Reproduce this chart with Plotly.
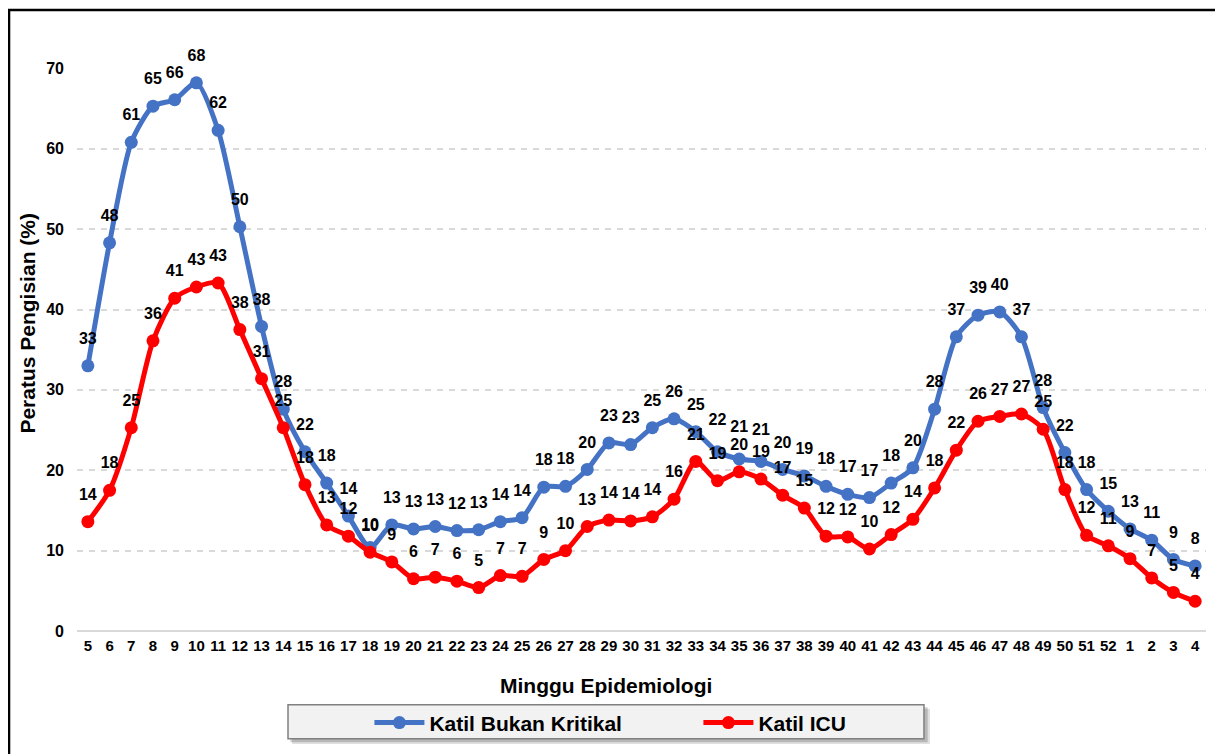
import plotly.graph_objects as go

weeks = [str(w) for w in range(5, 53)] + ["1", "2", "3", "4"]

bukan_kritikal = [
    33.0, 48.3, 60.8, 65.3, 66.1, 68.2, 62.3, 50.3, 37.9, 27.6,
    22.3, 18.4, 14.3, 10.4, 13.2, 12.7, 13.0, 12.5, 12.6, 13.6,
    14.1, 17.9, 18.0, 20.1, 23.4, 23.2, 25.3, 26.4, 24.8, 22.3,
    21.4, 21.1, 20.1, 19.3, 18.0, 17.0, 16.6, 18.4, 20.3, 27.6,
    36.6, 39.3, 39.7, 36.6, 27.8, 22.2, 17.6, 14.9, 12.7, 11.3,
    8.9, 8.1,
]

icu = [
    13.6, 17.5, 25.3, 36.1, 41.4, 42.8, 43.3, 37.5, 31.4, 25.3,
    18.2, 13.2, 11.8, 9.8, 8.6, 6.5, 6.7, 6.2, 5.4, 6.9,
    6.8, 8.9, 10.0, 13.0, 13.8, 13.7, 14.2, 16.4, 21.1, 18.7,
    19.8, 18.9, 16.9, 15.3, 11.8, 11.7, 10.2, 12.0, 13.9, 17.8,
    22.5, 26.1, 26.7, 27.0, 25.1, 17.6, 11.9, 10.6, 9.0, 6.6,
    4.8, 3.7,
]

series = [
    ("Katil Bukan Kritikal", bukan_kritikal, "#4472C4"),
    ("Katil ICU", icu, "#FF0000"),
]

FONT = "Arial, Liberation Sans, sans-serif"

# label offset tweaks (transparent marker size drives the text offset)
blue_label_size = {"34": 35, "35": 35, "36": 35, "18": 19}

fig = go.Figure()

for name, values, color in series:
    fig.add_trace(go.Scatter(
        x=weeks,
        y=values,
        name=name,
        mode="lines+markers",
        line=dict(color=color, width=5, shape="spline", smoothing=0.7),
        marker=dict(color=color, size=13),
        cliponaxis=False,
    ))

# data labels, pushed a bit higher than plotly's default offset
for name, values, color in series:
    if name == "Katil Bukan Kritikal":
        sizes = [blue_label_size.get(w, 27) for w in weeks]
    else:
        sizes = 27
    fig.add_trace(go.Scatter(
        x=weeks,
        y=values,
        mode="markers+text",
        text=[str(int(round(v))) for v in values],
        textposition="top center",
        textfont=dict(family=FONT, size=16, color="black", weight="bold"),
        marker=dict(size=sizes, opacity=0),
        showlegend=False,
        hoverinfo="skip",
        cliponaxis=False,
    ))

fig.update_xaxes(
    type="category",
    dtick=1,
    tickangle=0,
    showgrid=False,
    showline=False,
    ticks="",
    ticklabelstandoff=4,
    tickfont=dict(family=FONT, size=15, color="black", weight="bold"),
    range=[-0.5, len(weeks) - 0.5],
)

fig.update_yaxes(
    range=[0, 70.05],
    dtick=10,
    showgrid=True,
    gridcolor="#d9d9d9",
    gridwidth=1.5,
    griddash="6px,6px",
    zeroline=True,
    zerolinecolor="#d9d9d9",
    zerolinewidth=2,
    showline=False,
    ticks="",
    ticklabelstandoff=12,
    tickfont=dict(family=FONT, size=16, color="black", weight="bold"),
)

title_font = dict(family=FONT, size=21, color="black", weight="bold")
fig.add_annotation(text="Peratus Pengisian (%)", textangle=-90,
                   xref="paper", yref="paper", x=-0.0434, y=0.546,
                   xanchor="center", yanchor="middle", showarrow=False,
                   font=title_font)
fig.add_annotation(text="Minggu Epidemiologi",
                   xref="paper", yref="paper", x=0.4686, y=-0.0975,
                   xanchor="center", yanchor="middle", showarrow=False,
                   font=title_font)

# legend box with a soft shadow, plus outer frame
fig.add_shape(type="rect", xref="paper", yref="paper", layer="below",
              x0=0.1905, x1=0.7555, y0=-0.2005, y1=-0.1380,
              fillcolor="rgba(0,0,0,0.12)", line=dict(width=0))
fig.add_shape(type="rect", xref="paper", yref="paper", layer="below",
              x0=0.1890, x1=0.7535, y0=-0.1975, y1=-0.1355,
              fillcolor="rgba(0,0,0,0.18)", line=dict(width=0))
fig.add_shape(type="rect", xref="paper", yref="paper", layer="below",
              x0=0.1869, x1=0.7502, y0=-0.1915, y1=-0.1312,
              fillcolor="#f2f2f2", line=dict(color="#808080", width=1.5))
fig.add_shape(type="rect", xref="paper", yref="paper", layer="above",
              x0=-0.0602, x1=1.0115, y0=-0.24, y1=1.1028,
              fillcolor="rgba(0,0,0,0)", line=dict(color="black", width=2.5))

# page body adds an 8px offset, so trim the canvas to land on the same pixels
fig.update_layout(
    width=1215,
    height=746,
    margin=dict(l=69, r=17, t=60, b=122),
    paper_bgcolor="white",
    plot_bgcolor="white",
    font=dict(family=FONT, color="black"),
    showlegend=True,
    legend=dict(
        orientation="h",
        x=0.259,
        xanchor="left",
        y=-0.1613,
        yanchor="middle",
        bgcolor="rgba(0,0,0,0)",
        borderwidth=0,
        itemwidth=50,
        entrywidth=264,
        font=dict(family=FONT, size=21, color="black", weight="bold"),
    ),
)

fig.write_html("out.html")
